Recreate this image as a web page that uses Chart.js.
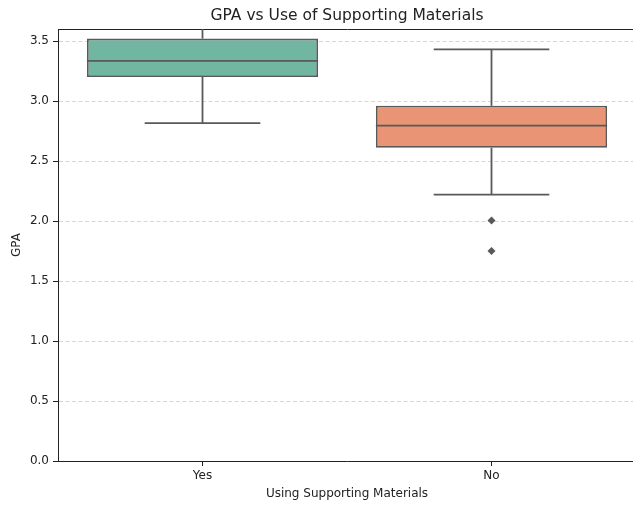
<!DOCTYPE html>
<html>
<head>
<meta charset="utf-8">
<script src="https://cdn.jsdelivr.net/npm/chart.js@4.4.1/dist/chart.umd.min.js"></script>
<style>
  html, body { margin: 0; padding: 0; background: #fff; overflow: hidden; }
  #wrap { width: 640px; height: 506px; }
</style>
</head>
<body>
<div id="wrap"><canvas id="gpa-box" width="640" height="506"></canvas></div>
<script>
// box plot stats
const categories = ['Yes', 'No'];
const q1 = [3.20, 2.61];
const q3 = [3.52, 2.96];
const medians = [3.335, 2.795];
const whiskerLow = [2.815, 2.22];
const whiskerHigh = [3.70, 3.43]; // "Yes" runs past the top of the axes
const outlierCat = [1, 1];
const outlierVals = [2.005, 1.75];
const yTicks = [0, 0.5, 1.0, 1.5, 2.0, 2.5, 3.0, 3.5];

const boxColors = ['#71b6a1', '#e99575'];
const lineGray = '#595959';
const boxHalf = 0.4, capHalf = 0.2;

Chart.defaults.font.family = "'DejaVu Sans', sans-serif";
Chart.defaults.color = '#222';

function seg(x1, y1, x2, y2) {
    return {
        type: 'line', xAxisID: 'xl', yAxisID: 'y', order: 2,
        data: [{ x: x1, y: y1 }, { x: x2, y: y2 }],
        borderColor: lineGray, borderWidth: 1.8, pointRadius: 0, fill: false,
    };
}

const lineSets = [];
categories.forEach((c, i) => {
    lineSets.push(seg(i, q3[i], i, whiskerHigh[i]));
    lineSets.push(seg(i, q1[i], i, whiskerLow[i]));
    lineSets.push(seg(i - capHalf, whiskerHigh[i], i + capHalf, whiskerHigh[i]));
    lineSets.push(seg(i - capHalf, whiskerLow[i], i + capHalf, whiskerLow[i]));
    const m = seg(i - boxHalf, medians[i], i + boxHalf, medians[i]);
    m.order = 1;
    lineSets.push(m);
});

new Chart(document.getElementById('gpa-box'), {
    type: 'bar',
    data: {
        labels: categories,
        datasets: [
            {
                type: 'bar', xAxisID: 'x', yAxisID: 'y', order: 3, grouped: false,
                data: categories.map((c, i) => [q1[i], q3[i]]),
                backgroundColor: boxColors, borderColor: lineGray, borderWidth: 1.8,
                borderSkipped: false, barPercentage: 0.8, categoryPercentage: 1.0,
            },
            ...lineSets,
            {
                type: 'line', xAxisID: 'xl', yAxisID: 'y', order: 0, showLine: false,
                data: outlierVals.map((v, k) => ({ x: outlierCat[k], y: v })),
                pointStyle: 'rectRot', pointRadius: 4, pointBackgroundColor: lineGray,
                pointBorderColor: lineGray, pointBorderWidth: 0,
            },
        ]
    },
    options: {
        responsive: false, animation: false,
        layout: { padding: 0 },
        plugins: {
            legend: { display: false },
            tooltip: { enabled: false },
            title: {
                display: true, text: 'GPA vs Use of Supporting Materials', fullSize: false,
                font: { size: 15.5, weight: 'normal' }, color: '#222',
                padding: { top: 7, bottom: 3.4 },
            },
        },
        scales: {
            x: {
                type: 'category', position: 'bottom', offset: true,
                grid: { drawOnChartArea: false, offset: false, tickLength: 5, tickColor: '#222', tickWidth: 1 },
                border: { color: '#222', width: 1 },
                ticks: { font: { size: 12 }, padding: 3, color: '#222' },
                title: { display: true, text: 'Using Supporting Materials', font: { size: 12 }, padding: { top: 0, bottom: 5 } },
                afterFit: s => { s.height = 45; },
            },
            xl: {
                type: 'linear', position: 'top', min: -0.5, max: 1.5, offset: false,
                grid: { display: false, drawTicks: false, offset: false },
                border: { color: '#222', width: 1 },
                ticks: { display: false },
                afterFit: s => { s.height = 0; },
            },
            y: {
                type: 'linear', min: 0, max: 3.6,
                afterBuildTicks: s => { s.ticks = yTicks.map(v => ({ value: v })); },
                grid: { color: '#cccccc', lineWidth: 0.8, borderDash: [4, 2.5], tickBorderDash: [], tickLength: 5, tickColor: '#222', tickWidth: 1 },
                border: { color: '#222', width: 1, dash: [4, 2.5] },
                ticks: { font: { size: 12 }, padding: 4, color: '#222', callback: v => Number(v).toFixed(1) },
                title: { display: true, text: 'GPA', font: { size: 12 }, padding: { top: 10, bottom: 0 } },
                afterFit: s => { s.width = 58; },
            },
        }
    }
});
</script>
</body>
</html>
